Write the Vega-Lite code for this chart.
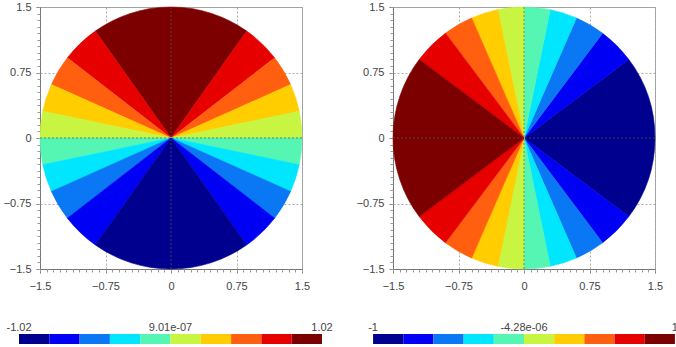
{
  "$schema": "https://vega.github.io/schema/vega-lite/v6.json",
  "padding": {"left": 2, "top": 0, "right": 0, "bottom": 0},
  "background": "white",
  "config": {
    "font": "Liberation Sans",
    "view": {"stroke": "#aaaaaa"},
    "axis": {"title": null, "labelFont": "Liberation Sans", "labelFontSize": 11, "labelColor": "#444444", "labelFlush": false, "labelOverlap": false, "tickColor": "#777777", "domainColor": "#777777", "gridColor": "#999999", "gridDash": [2, 2], "gridOpacity": 0.8}
  },
  "datasets": {
    "sinSectors": [
      {"a0": 54.69, "a1": 125.31, "level": 9},
      {"a0": 37.73, "a1": 54.69, "level": 8},
      {"a0": 125.31, "a1": 142.27, "level": 8},
      {"a0": 24.08, "a1": 37.73, "level": 7},
      {"a0": 142.27, "a1": 155.92, "level": 7},
      {"a0": 11.77, "a1": 24.08, "level": 6},
      {"a0": 155.92, "a1": 168.23, "level": 6},
      {"a0": 0, "a1": 11.77, "level": 5},
      {"a0": 168.23, "a1": 180, "level": 5},
      {"a0": 180, "a1": 191.77, "level": 4},
      {"a0": 348.23, "a1": 360, "level": 4},
      {"a0": 191.77, "a1": 204.08, "level": 3},
      {"a0": 335.92, "a1": 348.23, "level": 3},
      {"a0": 204.08, "a1": 217.73, "level": 2},
      {"a0": 322.27, "a1": 335.92, "level": 2},
      {"a0": 217.73, "a1": 234.69, "level": 1},
      {"a0": 305.31, "a1": 322.27, "level": 1},
      {"a0": 234.69, "a1": 305.31, "level": 0}
    ],
    "cosSectors": [
      {"a0": 323.13, "a1": 360, "level": 0},
      {"a0": 0, "a1": 36.87, "level": 0},
      {"a0": 36.87, "a1": 53.13, "level": 1},
      {"a0": 306.87, "a1": 323.13, "level": 1},
      {"a0": 53.13, "a1": 66.42, "level": 2},
      {"a0": 293.58, "a1": 306.87, "level": 2},
      {"a0": 66.42, "a1": 78.46, "level": 3},
      {"a0": 281.54, "a1": 293.58, "level": 3},
      {"a0": 78.46, "a1": 90, "level": 4},
      {"a0": 270, "a1": 281.54, "level": 4},
      {"a0": 90, "a1": 101.54, "level": 5},
      {"a0": 258.46, "a1": 270, "level": 5},
      {"a0": 101.54, "a1": 113.58, "level": 6},
      {"a0": 246.42, "a1": 258.46, "level": 6},
      {"a0": 113.58, "a1": 126.87, "level": 7},
      {"a0": 233.13, "a1": 246.42, "level": 7},
      {"a0": 126.87, "a1": 143.13, "level": 8},
      {"a0": 216.87, "a1": 233.13, "level": 8},
      {"a0": 143.13, "a1": 216.87, "level": 9}
    ],
    "sinBar": [
      {"lo": -1.02, "hi": -0.816, "level": 0},
      {"lo": -0.816, "hi": -0.612, "level": 1},
      {"lo": -0.612, "hi": -0.408, "level": 2},
      {"lo": -0.408, "hi": -0.204, "level": 3},
      {"lo": -0.204, "hi": 0, "level": 4},
      {"lo": 0, "hi": 0.204, "level": 5},
      {"lo": 0.204, "hi": 0.408, "level": 6},
      {"lo": 0.408, "hi": 0.612, "level": 7},
      {"lo": 0.612, "hi": 0.816, "level": 8},
      {"lo": 0.816, "hi": 1.02, "level": 9}
    ],
    "cosBar": [
      {"lo": -1, "hi": -0.8, "level": 0},
      {"lo": -0.8, "hi": -0.6, "level": 1},
      {"lo": -0.6, "hi": -0.4, "level": 2},
      {"lo": -0.4, "hi": -0.2, "level": 3},
      {"lo": -0.2, "hi": 0, "level": 4},
      {"lo": 0, "hi": 0.2, "level": 5},
      {"lo": 0.2, "hi": 0.4, "level": 6},
      {"lo": 0.4, "hi": 0.6, "level": 7},
      {"lo": 0.6, "hi": 0.8, "level": 8},
      {"lo": 0.8, "hi": 1, "level": 9}
    ],
    "sinLabels": [
      {"v": -1.02, "t": "-1.02"},
      {"v": 9.01e-7, "t": "9.01e-07"},
      {"v": 1.02, "t": "1.02"}
    ],
    "cosLabels": [
      {"v": -1, "t": "-1"},
      {"v": -4.28e-6, "t": "-4.28e-06"},
      {"v": 1, "t": "1"}
    ]
  },
  "concat": [
    {
      "width": 262, "height": 262,
      "layer": [
        {
          "data": {"name": "sinSectors"},
          "mark": {"type": "arc", "radius": 131, "strokeWidth": 0.6},
          "encoding": {
            "theta": {"field": "a0", "type": "quantitative", "stack": null, "scale": {"domain": [0, 360], "range": [1.5707963, -4.712389], "nice": false, "zero": false}},
            "theta2": {"field": "a1"},
            "color": {"field": "level", "type": "ordinal", "legend": null, "scale": {"domain": [0,1,2,3,4,5,6,7,8,9], "range": ["#00008f","#0000f5","#0a78f5","#00e6ff","#55f5b4","#c8f541","#ffcd00","#ff5f0f","#e60000","#7d0000"]}},
            "stroke": {"field": "level", "type": "ordinal", "legend": null, "scale": {"domain": [0,1,2,3,4,5,6,7,8,9], "range": ["#00008f","#0000f5","#0a78f5","#00e6ff","#55f5b4","#c8f541","#ffcd00","#ff5f0f","#e60000","#7d0000"]}}
          }
        },
        {
          "data": {"values": [{"z": 0}]},
          "mark": {"type": "rule", "stroke": "#555555", "strokeDash": [2, 2], "strokeWidth": 1, "opacity": 0.7},
          "encoding": {
            "x": {"field": "z", "type": "quantitative", "scale": {"domain": [-1.5, 1.5], "nice": false, "zero": false},
              "axis": {"orient": "bottom", "values": [-1.5, -0.75, 0, 0.75, 1.5], "format": "~g", "grid": true, "tickSize": 4, "labelPadding": 7}}
          }
        },
        {
          "data": {"values": [{"z": 0}]},
          "mark": {"type": "rule", "stroke": "#555555", "strokeDash": [2, 2], "strokeWidth": 1, "opacity": 0.7},
          "encoding": {
            "y": {"field": "z", "type": "quantitative", "scale": {"domain": [-1.5, 1.5], "nice": false, "zero": false},
              "axis": {"orient": "left", "values": [-1.5, -0.75, 0, 0.75, 1.5], "format": "~g", "grid": true, "tickSize": 4, "labelPadding": 5}}
          }
        },
        {
          "data": {"values": [{"z": 0}]},
          "mark": {"type": "point", "opacity": 0},
          "encoding": {
            "x": {"field": "z", "type": "quantitative", "axis": {"orient": "bottom", "labels": false, "domain": false, "grid": false, "tickSize": 3, "tickColor": "#999999", "values": [-1.5,-1.425,-1.35,-1.275,-1.2,-1.125,-1.05,-0.975,-0.9,-0.825,-0.75,-0.675,-0.6,-0.525,-0.45,-0.375,-0.3,-0.225,-0.15,-0.075,0,0.075,0.15,0.225,0.3,0.375,0.45,0.525,0.6,0.675,0.75,0.825,0.9,0.975,1.05,1.125,1.2,1.275,1.35,1.425,1.5]}},
            "y": {"field": "z", "type": "quantitative", "axis": {"orient": "left", "labels": false, "domain": false, "grid": false, "tickSize": 3, "tickColor": "#999999", "values": [-1.5,-1.425,-1.35,-1.275,-1.2,-1.125,-1.05,-0.975,-0.9,-0.825,-0.75,-0.675,-0.6,-0.525,-0.45,-0.375,-0.3,-0.225,-0.15,-0.075,0,0.075,0.15,0.225,0.3,0.375,0.45,0.525,0.6,0.675,0.75,0.825,0.9,0.975,1.05,1.125,1.2,1.275,1.35,1.425,1.5]}}
          }
        }
      ],
      "resolve": {"axis": {"x": "independent", "y": "independent"}}
    },
    {
      "width": 262, "height": 262,
      "layer": [
        {
          "data": {"name": "cosSectors"},
          "mark": {"type": "arc", "radius": 131, "strokeWidth": 0.6},
          "encoding": {
            "theta": {"field": "a0", "type": "quantitative", "stack": null, "scale": {"domain": [0, 360], "range": [1.5707963, -4.712389], "nice": false, "zero": false}},
            "theta2": {"field": "a1"},
            "color": {"field": "level", "type": "ordinal", "legend": null, "scale": {"domain": [0,1,2,3,4,5,6,7,8,9], "range": ["#00008f","#0000f5","#0a78f5","#00e6ff","#55f5b4","#c8f541","#ffcd00","#ff5f0f","#e60000","#7d0000"]}},
            "stroke": {"field": "level", "type": "ordinal", "legend": null, "scale": {"domain": [0,1,2,3,4,5,6,7,8,9], "range": ["#00008f","#0000f5","#0a78f5","#00e6ff","#55f5b4","#c8f541","#ffcd00","#ff5f0f","#e60000","#7d0000"]}}
          }
        },
        {
          "data": {"values": [{"z": 0}]},
          "mark": {"type": "rule", "stroke": "#555555", "strokeDash": [2, 2], "strokeWidth": 1, "opacity": 0.7},
          "encoding": {
            "x": {"field": "z", "type": "quantitative", "scale": {"domain": [-1.5, 1.5], "nice": false, "zero": false},
              "axis": {"orient": "bottom", "values": [-1.5, -0.75, 0, 0.75, 1.5], "format": "~g", "grid": true, "tickSize": 4, "labelPadding": 7}}
          }
        },
        {
          "data": {"values": [{"z": 0}]},
          "mark": {"type": "rule", "stroke": "#555555", "strokeDash": [2, 2], "strokeWidth": 1, "opacity": 0.7},
          "encoding": {
            "y": {"field": "z", "type": "quantitative", "scale": {"domain": [-1.5, 1.5], "nice": false, "zero": false},
              "axis": {"orient": "left", "values": [-1.5, -0.75, 0, 0.75, 1.5], "format": "~g", "grid": true, "tickSize": 4, "labelPadding": 5}}
          }
        },
        {
          "data": {"values": [{"z": 0}]},
          "mark": {"type": "point", "opacity": 0},
          "encoding": {
            "x": {"field": "z", "type": "quantitative", "axis": {"orient": "bottom", "labels": false, "domain": false, "grid": false, "tickSize": 3, "tickColor": "#999999", "values": [-1.5,-1.425,-1.35,-1.275,-1.2,-1.125,-1.05,-0.975,-0.9,-0.825,-0.75,-0.675,-0.6,-0.525,-0.45,-0.375,-0.3,-0.225,-0.15,-0.075,0,0.075,0.15,0.225,0.3,0.375,0.45,0.525,0.6,0.675,0.75,0.825,0.9,0.975,1.05,1.125,1.2,1.275,1.35,1.425,1.5]}},
            "y": {"field": "z", "type": "quantitative", "axis": {"orient": "left", "labels": false, "domain": false, "grid": false, "tickSize": 3, "tickColor": "#999999", "values": [-1.5,-1.425,-1.35,-1.275,-1.2,-1.125,-1.05,-0.975,-0.9,-0.825,-0.75,-0.675,-0.6,-0.525,-0.45,-0.375,-0.3,-0.225,-0.15,-0.075,0,0.075,0.15,0.225,0.3,0.375,0.45,0.525,0.6,0.675,0.75,0.825,0.9,0.975,1.05,1.125,1.2,1.275,1.35,1.425,1.5]}}
          }
        }
      ],
      "resolve": {"axis": {"x": "independent", "y": "independent"}}
    },
    {
      "width": 262, "height": 10,
      "view": {"stroke": null},
      "layer": [
        {
          "data": {"name": "sinBar"},
          "mark": {"type": "rect"},
          "encoding": {
            "x": {"field": "lo", "type": "quantitative", "scale": {"domain": [-0.8786, 0.8853], "nice": false, "zero": false}, "axis": null},
            "x2": {"field": "hi"},
            "color": {"field": "level", "type": "ordinal", "legend": null, "scale": {"domain": [0,1,2,3,4,5,6,7,8,9], "range": ["#00008f","#0000f5","#0a78f5","#00e6ff","#55f5b4","#c8f541","#ffcd00","#ff5f0f","#e60000","#7d0000"]}}
          }
        },
        {
          "data": {"name": "sinLabels"},
          "mark": {"type": "text", "fontSize": 11, "color": "#444444", "dy": -11, "align": "center"},
          "encoding": {
            "x": {"field": "v", "type": "quantitative"},
            "text": {"field": "t", "type": "nominal"}
          }
        }
      ]
    },
    {
      "width": 262, "height": 10,
      "view": {"stroke": null},
      "layer": [
        {
          "data": {"name": "cosBar"},
          "mark": {"type": "rect"},
          "encoding": {
            "x": {"field": "lo", "type": "quantitative", "scale": {"domain": [-0.868, 0.868], "nice": false, "zero": false}, "axis": null},
            "x2": {"field": "hi"},
            "color": {"field": "level", "type": "ordinal", "legend": null, "scale": {"domain": [0,1,2,3,4,5,6,7,8,9], "range": ["#00008f","#0000f5","#0a78f5","#00e6ff","#55f5b4","#c8f541","#ffcd00","#ff5f0f","#e60000","#7d0000"]}}
          }
        },
        {
          "data": {"name": "cosLabels"},
          "mark": {"type": "text", "fontSize": 11, "color": "#444444", "dy": -11, "align": "center"},
          "encoding": {
            "x": {"field": "v", "type": "quantitative"},
            "text": {"field": "t", "type": "nominal"}
          }
        }
      ]
    }
  ],
  "columns": 2,
  "align": "all",
  "spacing": {"row": 65, "column": 91},
  "bounds": "flush"
}
